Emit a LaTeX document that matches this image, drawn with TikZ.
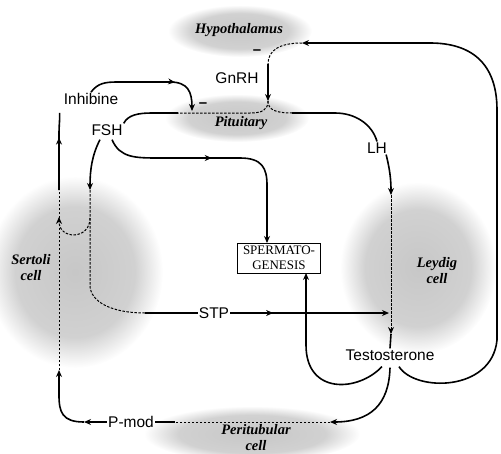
\documentclass[tikz,border=0pt]{standalone}
\usepackage{fontspec}
\setmainfont{Liberation Serif}
\setsansfont{Liberation Sans}
\usetikzlibrary{arrows.meta,decorations.markings}
\pgfdeclareradialshading{cellshade}{\pgfpoint{0bp}{0bp}}{color(0bp)=(black!22); color(17bp)=(black!18); color(25bp)=(white); color(50bp)=(white)}

\tikzset{
  hormone/.style={font=\sffamily\fontsize{15.5}{17}\selectfont,inner sep=1pt},
  organ/.style={font=\rmfamily\bfseries\itshape\fontsize{14.5}{16}\selectfont,inner sep=0pt,align=center},
  flow/.style={line width=1.6pt,-{Stealth[length=7pt,width=6pt]}},
  link/.style={line width=1.6pt},
  leak/.style={line width=1pt,dash pattern=on 2.5pt off 1.5pt},
  midtip/.style={postaction=decorate,decoration={markings,mark=at position #1 with {\arrow{Stealth[length=7pt,width=6pt]}}}},
  minus/.style={font=\sffamily\bfseries\fontsize{15}{16}\selectfont,inner sep=0pt}
}

\begin{document}
\begin{tikzpicture}[x=1pt,y=-1pt]
\useasboundingbox (0,0) rectangle (501,453);
% cell regions
\shade[shading=cellshade] (240,31) ellipse (72 and 26);
\shade[shading=cellshade] (237,118) ellipse (72 and 24);
\shade[shading=cellshade] (75,272) ellipse (88 and 96);
\shade[shading=cellshade] (418,268) ellipse (78 and 86);
\shade[shading=cellshade] (252,434) ellipse (108 and 28);

% labels
\node[organ] (hypo) at (239,30) {Hypothalamus};
\node[organ] (pit) at (241,123) {Pituitary};
\node[organ] (sert) at (31,268) {Sertoli\\cell};
\node[organ] (leyd) at (437,271) {Leydig\\cell};
\node[organ] (peri) at (256,438) {Peritubular\\cell};
\node[hormone] (gnrh) at (237,78) {GnRH};
\node[hormone] (inh) at (91,99) {Inhibine};
\node[hormone] (fsh) at (107,130) {FSH};
\node[hormone] (lh) at (377,148) {LH};
\node[hormone] (stp) at (214,313) {STP};
\node[hormone] (testo) at (390,355) {Testosterone};
\node[hormone] (pmod) at (131,422) {P-mod};
\node[draw,line width=0.9pt,minimum width=83pt,minimum height=30pt,inner sep=1pt,
      font=\rmfamily\fontsize{13}{14.5}\selectfont,align=center] (sperm) at (279,258) {SPERMATO-\\GENESIS};
\node[minus] (minushyp) at (257,52) {--};
\node[minus] (minuspit) at (203,105) {--};

% junctions
\coordinate (hypin) at (302,43);
\coordinate (gnrhtop) at (268,64);
\coordinate (gnrhend) at (268,101);
\coordinate (pitleft) at (250,113);
\coordinate (pitright) at (292,113);
\coordinate (pitfar) at (178,113);
\coordinate (inhend) at (192,111);
\coordinate (lhin) at (391,195);
\coordinate (leydout) at (391,334);
\coordinate (stpin) at (389,313);
\coordinate (stpfrom) at (145,313);
\coordinate (periin) at (330,422);
\coordinate (perileft) at (175,422);
\coordinate (spermtop) at (267,243);
\coordinate (spermin) at (306,273);
\coordinate (sertin) at (90,190);
\coordinate (sertuin) at (59,217);
\coordinate (sertbot) at (59,370);
\coordinate (serttop) at (59,190);
\coordinate (pmodtip) at (84,422);

% hypothalamus - pituitary
\draw[flow] ([xshift=9pt,yshift=-5pt]testo.south) .. controls (415,392) and (492,392) .. (497,340)
  -- (497,110) .. controls (497,62) and (470,43) .. (430,43) -- (hypin);
\draw[leak] (hypin) .. controls (280,43) and (268,50) .. (gnrhtop);
\draw[flow] (gnrhtop) -- (gnrhend);
\draw[leak] (gnrhend) .. controls (268,110) and (262,113) .. (pitleft) -- (pitfar);
\draw[leak] (gnrhend) .. controls (268,110) and (276,113) .. (pitright);
\draw[link] (pitfar) -- (152,113) .. controls (138,113) and (128,115) .. (fsh.north east);
\draw[link] (pitright) -- (335,113) .. controls (355,113) and (372,124) .. (lh.north);
\draw[flow,midtip=0.7] (inh.north) .. controls (98,83) and (105,82) .. (118,82) -- (170,82)
  .. controls (188,82) and (192,92) .. (inhend);

% FSH
\draw[flow] ([xshift=-7pt,yshift=-3pt]fsh.south) .. controls (92,155) and (90,170) .. (sertin);
\draw[flow,midtip=0.45] ([xshift=5pt,yshift=-3pt]fsh.south) .. controls (120,158) and (135,158) .. (160,158)
  -- (240,158) .. controls (262,158) and (267,168) .. (267,185) -- (spermtop);

% Sertoli cell
\draw[leak,-{Stealth[length=7pt,width=6pt]}] (sertin) -- (90,218) .. controls (90,240) and (59,240) .. (sertuin);
\draw[leak] (90,218) -- (90,285) .. controls (90,302) and (112,313) .. (stpfrom);
\draw[link] (stpfrom) -- (stp.west);
\draw[flow,midtip=0.27] (stp.east) -- (stpin);
\draw[flow] (pmod.west) -- (pmodtip);
\draw[flow] (pmodtip) .. controls (62,422) and (59,412) .. (59,395) -- (sertbot);
\draw[leak] (sertbot) -- (serttop);
\draw[link,midtip=0.68] (serttop) -- (59,135) .. controls (59,124) and (60,119) .. ([xshift=-3pt,yshift=-7pt]inh.south west);

% Leydig cell
\draw[flow] ([xshift=-2pt]lh.south east) .. controls (390,170) and (391,180) .. (lhin);
\draw[leak,-{Stealth[length=7pt,width=6pt]}] (lhin) -- (leydout);
\draw[link] (leydout) -- (testo.north);

% testosterone targets
\draw[flow] ([xshift=-8pt,yshift=-5pt]testo.south) .. controls (358,392) and (306,395) .. (306,345) -- (spermin);
\draw[flow] ([yshift=-6pt]testo.south) .. controls (389,405) and (370,422) .. (periin);
\draw[leak] (periin) -- (perileft);
\draw[link] (perileft) -- (pmod.east);
\end{tikzpicture}
\end{document}
